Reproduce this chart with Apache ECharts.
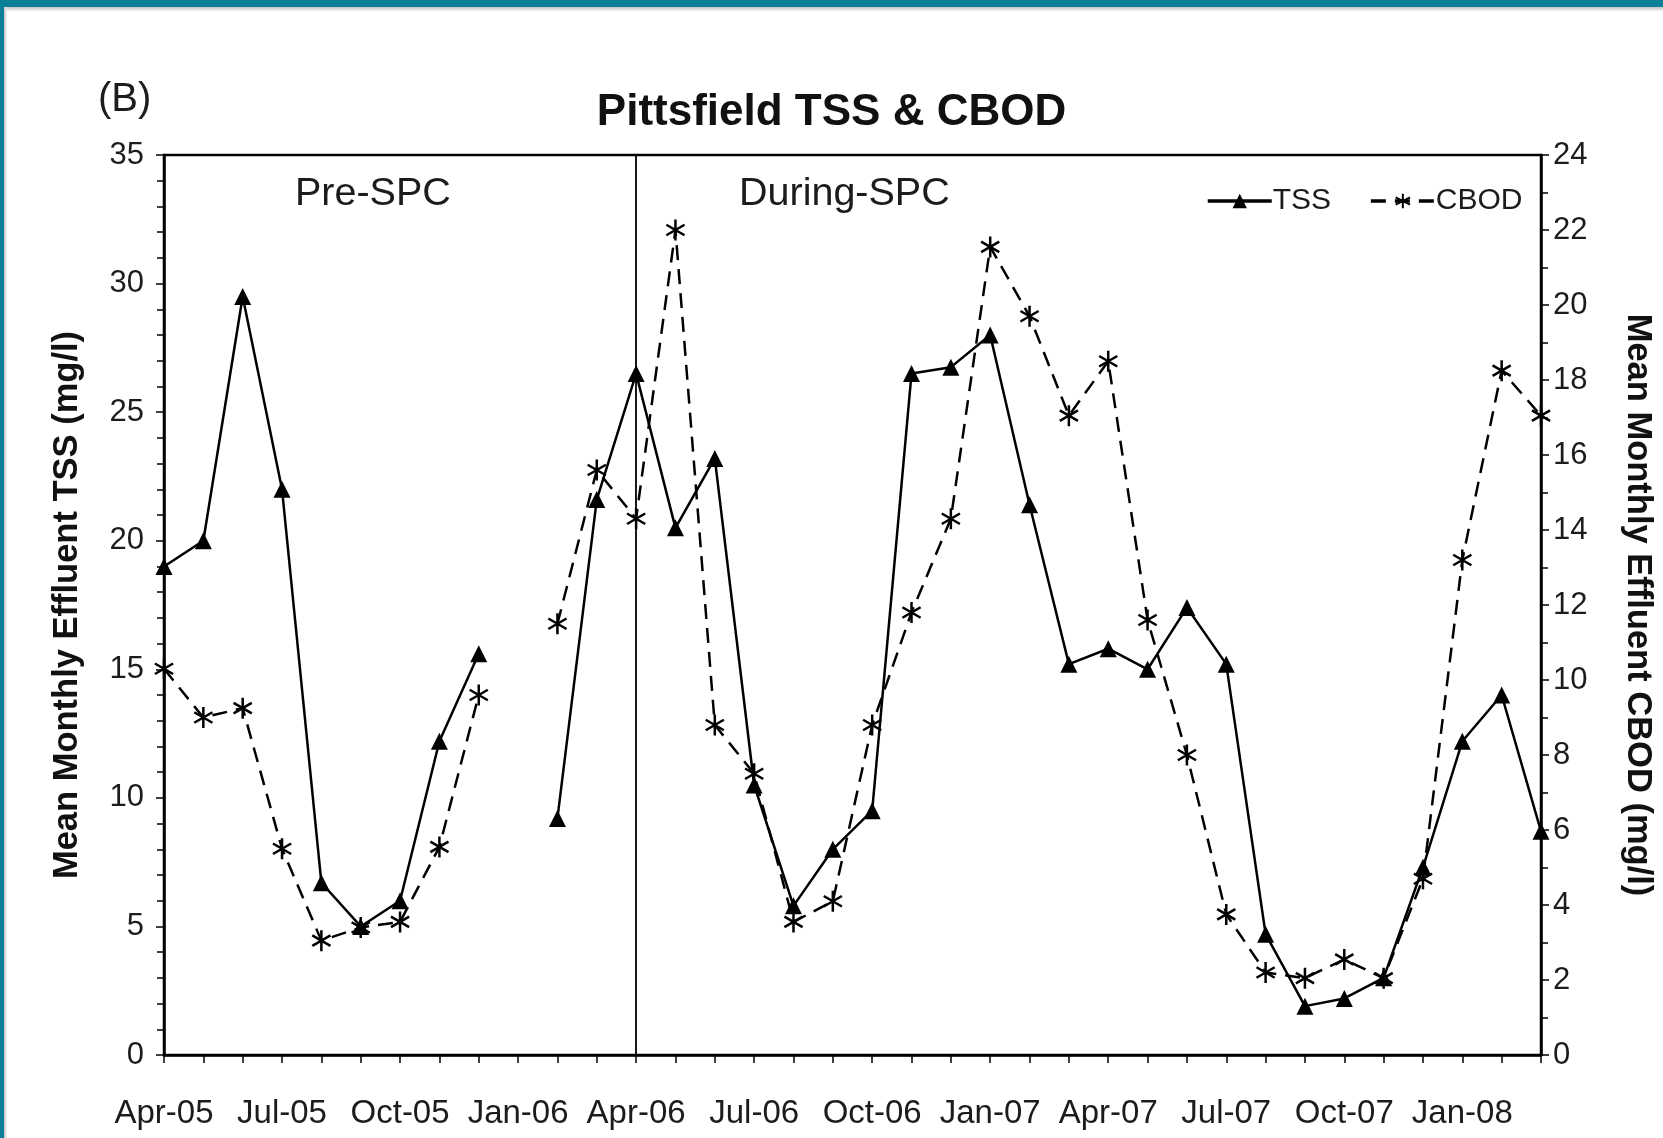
<!DOCTYPE html>
<html><head><meta charset="utf-8">
<script src="https://cdn.jsdelivr.net/npm/echarts@6/dist/echarts.min.js"></script>
<style>
html,body{margin:0;padding:0;background:#fff;overflow:hidden;}
#chart{position:absolute;left:0;top:0;width:1663px;height:1138px;}
.fr{position:absolute;pointer-events:none;}
</style></head><body>
<div id="chart"></div>
<div class="fr" style="left:0;top:7px;width:1663px;height:4px;background:linear-gradient(#c4c4c4,#f2f2f2);"></div>
<div class="fr" style="left:4px;top:7px;width:3px;height:1131px;background:linear-gradient(90deg,#c4c4c4,#f2f2f2);"></div>
<div class="fr" style="left:0;top:0;width:1663px;height:7px;background:#0a8098;"></div>
<div class="fr" style="left:0;top:0;width:4px;height:1138px;background:#0a8098;"></div>
<script>
const months = ['Apr-05','May-05','Jun-05','Jul-05','Aug-05','Sep-05','Oct-05','Nov-05','Dec-05',
  'Jan-06','Feb-06','Mar-06','Apr-06','May-06','Jun-06','Jul-06','Aug-06','Sep-06','Oct-06','Nov-06','Dec-06',
  'Jan-07','Feb-07','Mar-07','Apr-07','May-07','Jun-07','Jul-07','Aug-07','Sep-07','Oct-07','Nov-07','Dec-07',
  'Jan-08','Feb-08','Mar-08'];
const tss = [19.0, 20.0, 29.5, 22.0, 6.7, 5.0, 6.0, 12.2, 15.6,
  null, 9.2, 21.6, 26.5, 20.5, 23.2, 10.5, 5.8, 8.0, 9.5, 26.5, 26.75,
  28.0, 21.4, 15.2, 15.8, 15.0, 17.4, 15.2, 4.7, 1.9, 2.2, 3.0, 7.3,
  12.2, 14.0, 8.7];
const cbod = [10.3, 9.0, 9.25, 5.5, 3.05, 3.4, 3.55, 5.55, 9.6,
  null, 11.5, 15.6, 14.3, 22.0, 8.8, 7.5, 3.55, 4.1, 8.8, 11.8, 14.3,
  21.55, 19.7, 17.05, 18.5, 11.6, 8.0, 3.75, 2.2, 2.05, 2.55, 2.05, 4.7,
  13.2, 18.25, 17.05];
const phaseStart = 'Apr-06';
const titleText = 'Pittsfield TSS & CBOD';

const FONT = '"Liberation Sans", Arial, sans-serif';
const TXT = '#1c1c1c';
const asterisk = 'path://M10,0L10,20M1.34,5L18.66,15M1.34,15L18.66,5';

const chart = echarts.init(document.getElementById('chart'), null, {renderer:'canvas'});
chart.setOption({
  backgroundColor: '#fff',
  animation: false,
  textStyle: {fontFamily: FONT, color: TXT},
  title: {
    text: titleText, left: 'center', top: 86,
    textStyle: {fontFamily: FONT, fontSize: 44, fontWeight: 'bold', color: '#111'}
  },
  legend: {
    left: 1201, top: 181, itemWidth: 64, itemHeight: 18, itemGap: 38,
    lineStyle: {width: 3.5},
    textStyle: {fontFamily: FONT, fontSize: 30, color: TXT, padding: [0,0,0,-4]},
    data: ['TSS', 'CBOD']
  },
  grid: {left: 164, right: 120, top: 155, bottom: 83, show: true, borderColor: '#000', borderWidth: 2.5, backgroundColor: 'transparent'},
  xAxis: {
    type: 'category', data: months, boundaryGap: false,
    axisLine: {lineStyle: {color: '#000', width: 2.5}},
    axisTick: {show: true, interval: 0, length: 8, lineStyle: {color: '#000', width: 1.5}},
    axisLabel: {interval: 2, fontSize: 33, color: TXT, margin: 42, fontFamily: FONT},
    splitLine: {show: false}
  },
  yAxis: [{
    type: 'value', min: 0, max: 35, interval: 5, position: 'left',
    name: 'Mean Monthly Effluent TSS (mg/l)', nameLocation: 'middle', nameGap: 79, nameRotate: 90,
    nameTextStyle: {fontFamily: FONT, fontSize: 34.5, fontWeight: 'bold', color: '#111'},
    axisLine: {show: true, lineStyle: {color: '#000', width: 2.5}},
    axisTick: {show: true, length: 8, lineStyle: {color: '#000', width: 1.5}},
    minorTick: {show: true, splitNumber: 5, length: 7, lineStyle: {color: '#000', width: 1.5}},
    axisLabel: {fontSize: 31, color: TXT, margin: 20, fontFamily: FONT},
    splitLine: {show: false}
  }, {
    type: 'value', min: 0, max: 24, interval: 2, position: 'right',
    name: 'Mean Monthly Effluent CBOD (mg/l)', nameLocation: 'middle', nameGap: 79, nameRotate: -90,
    nameTextStyle: {fontFamily: FONT, fontSize: 34.5, fontWeight: 'bold', color: '#111'},
    axisLine: {show: true, lineStyle: {color: '#000', width: 2.5}},
    axisTick: {show: true, length: 8, lineStyle: {color: '#000', width: 1.5}},
    minorTick: {show: true, splitNumber: 2, length: 7, lineStyle: {color: '#000', width: 1.5}},
    axisLabel: {fontSize: 31, color: TXT, margin: 12, fontFamily: FONT},
    splitLine: {show: false}
  }],
  graphic: [
    {type: 'text', left: 98, top: 80, style: {text: '(B)', fontFamily: FONT, fontSize: 40, fill: TXT}},
    {type: 'text', left: 295, top: 174, style: {text: 'Pre-SPC', fontFamily: FONT, fontSize: 39.5, fill: TXT}},
    {type: 'text', left: 739, top: 174, style: {text: 'During-SPC', fontFamily: FONT, fontSize: 39.5, fill: TXT}}
  ],
  series: [{
    name: 'TSS', type: 'line', yAxisIndex: 0, data: tss, connectNulls: false,
    symbol: 'triangle', symbolSize: 17, showAllSymbol: true,
    itemStyle: {color: '#000'},
    lineStyle: {color: '#000', width: 2.5, type: 'solid'},
    markLine: {
      silent: true, symbol: 'none', label: {show: false},
      lineStyle: {color: '#000', width: 1.8, type: 'solid'},
      data: [{xAxis: phaseStart}]
    },
    z: 3
  }, {
    name: 'CBOD', type: 'line', yAxisIndex: 1, data: cbod, connectNulls: false,
    symbol: asterisk, symbolSize: 21, symbolKeepAspect: true, showAllSymbol: true,
    itemStyle: {color: 'rgba(0,0,0,0)', borderColor: '#000', borderWidth: 2.5},
    lineStyle: {color: '#000', width: 2.5, type: [15, 9]},
    z: 2
  }]
});
</script>
</body></html>
